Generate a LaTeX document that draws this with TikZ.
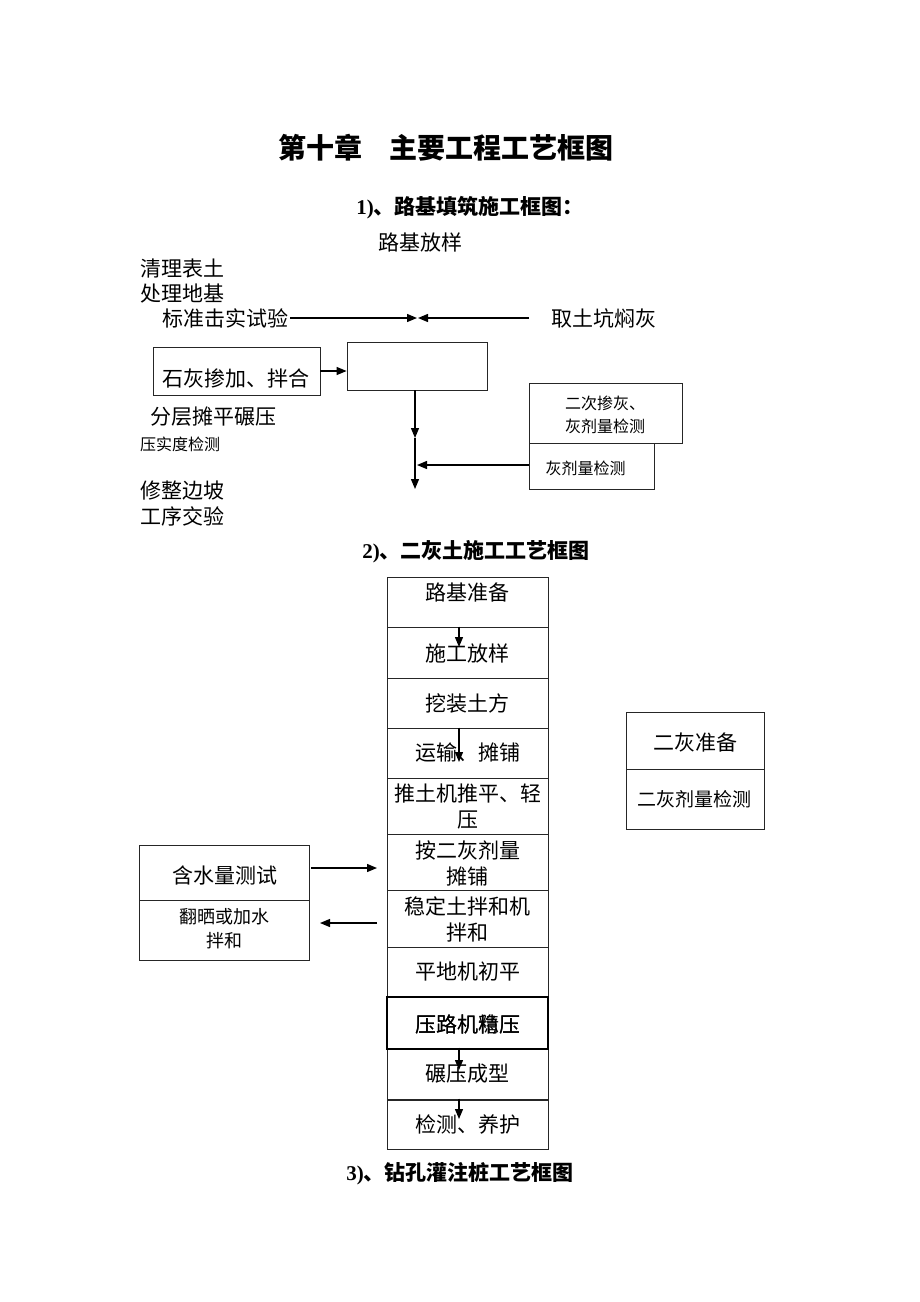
\documentclass[tikz,border=0pt]{standalone}
\usepackage{fontspec}
\setmainfont{Noto Sans CJK SC}
\newfontfamily\latf{Liberation Serif}
\usetikzlibrary{arrows.meta}
\begin{document}
\begin{tikzpicture}[x=1pt,y=-1pt,
  box/.style={draw=black!85, line width=0.8pt, inner sep=0pt},
  arr/.style={-{Triangle[length=10pt,width=8pt]}, line width=1.3pt},
  tt/.style={inner sep=0pt, font=\fontsize{21}{26}\selectfont, align=center},
  ts/.style={inner sep=0pt, font=\fontsize{16}{23}\selectfont, align=center},
  tm/.style={inner sep=0pt, font=\fontsize{18}{24}\selectfont, align=center},
  hd/.style={inner sep=0pt, font=\bfseries\fontsize{21}{24}\selectfont},
  row/.style={box, minimum width=161pt}]
\useasboundingbox (0,0) rectangle (920,1302);
\fill[white] (0,0) rectangle (920,1302);

% title
\node[inner sep=0pt, anchor=west, font=\bfseries\fontsize{28}{32}\selectfont] (title) at (278,148) {第十章\hspace{27pt}主要工程工艺框图};
\node[hd] (h1) at (470,208) {{\latf 1)}、路基填筑施工框图：};

% section 1
\node[tt] (fy) at (420,243) {路基放样};
\node[tt, anchor=west] (ql) at (140,269) {清理表土};
\node[tt, anchor=west] (cl) at (140,294) {处理地基};
\node[tt, anchor=west] (bz) at (162,318) {标准击实试验};
\node[tt, anchor=west] (qt) at (551,318) {取土坑焖灰};
\coordinate (tipL) at (417,318);
\coordinate (tipR) at (418,318);
\coordinate (qtS) at (529,318);
\draw[arr] ([xshift=2pt]bz.east) -- (tipL);
\draw[arr] (qtS) -- (tipR);

\node[box, minimum width=167pt, minimum height=48pt] (bA) at (236.5,371) {};
\node[tt] (bAt) at (236,378) {石灰掺加、拌合};
\node[box, minimum width=140pt, minimum height=48pt] (bB) at (417,366) {};
\draw[arr] (bA.east |- 0,371) -- (bB.west |- 0,371);

\node[tt, anchor=west] (fc) at (150,417) {分层摊平碾压};
\node[ts, anchor=west] (ys) at (140,444) {压实度检测};

\node[box, minimum width=153pt, minimum height=60pt] (bC) at (605.5,413) {};
\node[ts] (bCt) at (605,414.5) {二次掺灰、\\灰剂量检测};
\node[box, minimum width=125pt, minimum height=46pt] (bD) at (591.5,466) {};
\node[ts] (bDt) at (585.5,468) {灰剂量检测};

\coordinate (v1) at (415,438);
\coordinate (v2) at (415,489);
\coordinate (vj) at (417,465);
\draw[arr] (bB.south -| v1) -- (v1);
\draw[arr] (v1) -- (v2);
\draw[arr] (bD.west |- vj) -- (vj);

\node[tt, anchor=west] (xz) at (140,491) {修整边坡};
\node[tt, anchor=west] (gx) at (140,516) {工序交验};

% section 2
\node[hd] (h2) at (476,552) {{\latf 2)}、二灰土施工工艺框图};

\node[row, minimum height=50pt] (r1) at (467.5,602) {};
\node[tt] (r1t) at (467.5,592) {路基准备};
\node[row, minimum height=51pt] (r2) at (467.5,652.5) {};
\node[tt] (r2t) at (467.5,653) {施工放样};
\node[row, minimum height=50pt] (r3) at (467.5,703) {};
\node[tt] (r3t) at (467.5,703) {挖装土方};
\node[row, minimum height=50pt] (r4) at (467.5,753) {};
\node[tt] (r4t) at (467.5,753) {运输、摊铺};
\node[row, minimum height=56pt] (r5) at (467.5,806) {};
\node[tt] (r5t) at (467.5,807) {推土机推平、轻\\压};
\node[row, minimum height=56pt] (r6) at (467.5,862) {};
\node[tt] (r6t) at (467.5,863) {按二灰剂量\\摊铺};
\node[row, minimum height=57pt] (r7) at (467.5,918.5) {};
\node[tt] (r7t) at (467.5,919) {稳定土拌和机\\拌和};
\node[row, minimum height=50pt] (r8) at (467.5,972) {};
\node[tt] (r8t) at (467.5,972) {平地机初平};
\node[row, minimum height=52pt] (r10) at (467.5,1074) {};
\node[tt] (r10t) at (467.5,1074) {碾压成型};
\node[row, minimum height=50pt] (r11) at (467.5,1124) {};
\node[tt] (r11t) at (467.5,1124) {检测、养护};
\node[row, minimum height=52pt, line width=1.2pt, draw=black] (r9) at (467.5,1023) {};
\node[tt] (r9t) at (467.5,1024) {压路机稳压};
\node[tt] (r9u) at (467.5,1024) {压路机精压};

\coordinate (a1) at (459,647);
\coordinate (a2) at (459,762);
\coordinate (a3) at (459,1070);
\coordinate (a4) at (459,1119);
\draw[arr] (r2.north -| a1) -- (a1);
\draw[arr] (r4.north -| a2) -- (a2);
\draw[arr] (r10.north -| a3) -- (a3);
\draw[arr] (r11.north -| a4) -- (a4);

\node[box, minimum width=170pt, minimum height=55pt] (hs) at (224,872.5) {};
\node[tt] (hst) at (225,875) {含水量测试};
\node[box, minimum width=170pt, minimum height=60pt] (fs) at (224,930) {};
\node[tm] (fst) at (224,929) {翻晒或加水\\拌和};
\coordinate (c1) at (377,868);
\coordinate (c2) at (377,923);
\coordinate (c3) at (320,923);
\draw[arr] ([xshift=2pt]hs.east |- c1) -- (c1);
\draw[arr] (c2) -- (c3);

\node[box, minimum width=138pt, minimum height=57pt] (eh) at (695,740.5) {};
\node[tt] (eht) at (695,742) {二灰准备};
\node[box, minimum width=138pt, minimum height=60pt] (ej) at (695,799) {};
\node[inner sep=0pt, font=\fontsize{19}{24}\selectfont] (ejt) at (694,799) {二灰剂量检测};

\node[hd] (h3) at (460,1174) {{\latf 3)}、钻孔灌注桩工艺框图};
\end{tikzpicture}
\end{document}
